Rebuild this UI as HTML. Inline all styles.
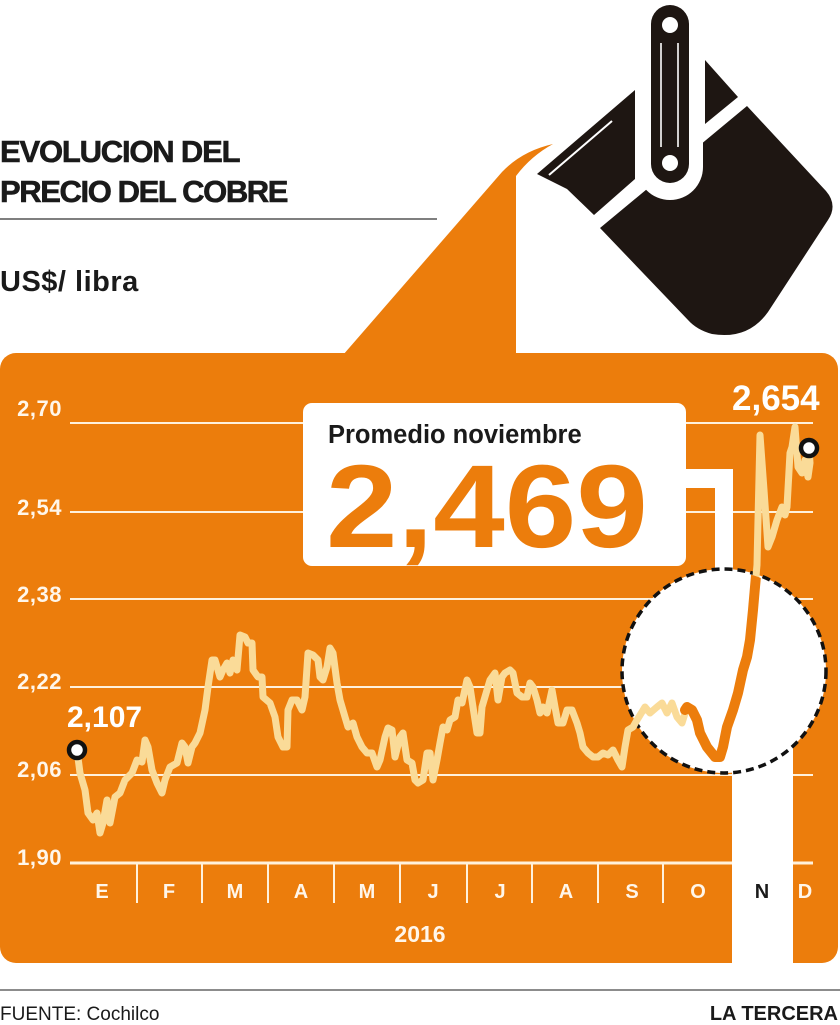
<!DOCTYPE html>
<html>
<head>
<meta charset="utf-8">
<style>
  html,body{margin:0;padding:0;background:#fff;}
  body{width:840px;height:1025px;overflow:hidden;}
  svg{display:block;font-family:"Liberation Sans", Arial, sans-serif;}
</style>
</head>
<body>
<svg width="840" height="1025" viewBox="0 0 840 1025" xmlns="http://www.w3.org/2000/svg">
  <defs>
    <clipPath id="cc"><circle cx="724" cy="671" r="100"/></clipPath>
  </defs>
  <rect width="840" height="1025" fill="#fff"/>

  <!-- Title -->
  <text x="0" y="162" font-size="31" font-weight="bold" letter-spacing="-1.2" fill="#1a1a1a" stroke="#1a1a1a" stroke-width="0.6">EVOLUCION DEL</text>
  <text x="0" y="202" font-size="31" font-weight="bold" letter-spacing="-1.4" fill="#1a1a1a" stroke="#1a1a1a" stroke-width="0.6">PRECIO DEL COBRE</text>
  <line x1="0" y1="219" x2="437" y2="219" stroke="#555" stroke-width="1.5"/>
  <text x="0" y="291" font-size="29" font-weight="bold" letter-spacing="0.5" fill="#1a1a1a">US$/ libra</text>

  <!-- orange pour shape -->
  <path d="M343,355 L502,172 Q522,151 553,144 Q531,156 516,176 L516,355 Z" fill="#EC7D0C"/>

  <!-- Bucket -->
  <path d="M600,228 L747,106 L826,191 Q838,205 828,220 L768,312 Q748,340 712,334 Q697,330 688,320 Z" fill="#1e1612"/>
  <path d="M537,174 L635,90 L635,179 L594,215 L567,189 Z" fill="#1e1612"/>
  <line x1="549" y1="175" x2="612" y2="121" stroke="#fff" stroke-width="2"/>
  <path d="M705,60 L738,97 L705,124 Z" fill="#1e1612"/>
  <rect x="637" y="-12" width="66" height="212" rx="33" fill="#fff"/>
  <rect x="651" y="5" width="38" height="178" rx="19" fill="#1e1612"/>
  <circle cx="670" cy="25" r="8" fill="#fff"/>
  <circle cx="670" cy="163" r="8" fill="#fff"/>
  <line x1="661" y1="43" x2="661" y2="147" stroke="#fff" stroke-width="1.6"/>
  <line x1="678" y1="43" x2="678" y2="147" stroke="#fff" stroke-width="1.6"/>

  <!-- Panel -->
  <rect x="0" y="353" width="838" height="610" rx="16" fill="#EC7D0C"/>

  <!-- gridlines -->
  <g stroke="#FFF1DC" stroke-width="2">
    <line x1="70" y1="423" x2="813" y2="423"/>
    <line x1="70" y1="512" x2="813" y2="512"/>
    <line x1="70" y1="599" x2="813" y2="599"/>
    <line x1="70" y1="687" x2="813" y2="687"/>
    <line x1="70" y1="775" x2="813" y2="775"/>
  </g>
  <line x1="70" y1="863" x2="813" y2="863" stroke="#FFF1DC" stroke-width="3"/>
  <g stroke="#FFF1DC" stroke-width="2">
    <line x1="137" y1="863" x2="137" y2="903"/>
    <line x1="202" y1="863" x2="202" y2="903"/>
    <line x1="268" y1="863" x2="268" y2="903"/>
    <line x1="334" y1="863" x2="334" y2="903"/>
    <line x1="400" y1="863" x2="400" y2="903"/>
    <line x1="467" y1="863" x2="467" y2="903"/>
    <line x1="532" y1="863" x2="532" y2="903"/>
    <line x1="598" y1="863" x2="598" y2="903"/>
    <line x1="663" y1="863" x2="663" y2="903"/>
  </g>

  <!-- Y labels -->
  <g font-size="22" font-weight="bold" fill="#FFF6EA" text-anchor="end" letter-spacing="0.5">
    <text x="62" y="416">2,70</text>
    <text x="62" y="515">2,54</text>
    <text x="62" y="602">2,38</text>
    <text x="62" y="689">2,22</text>
    <text x="62" y="777">2,06</text>
    <text x="62" y="865">1,90</text>
  </g>

  <!-- circle highlight & November band -->
  <circle cx="724" cy="671" r="102" fill="#fff"/>
  <rect x="732" y="700" width="61" height="290" fill="#fff"/>
  <rect x="686" y="469" width="47" height="19" fill="#fff"/>
  <rect x="715" y="469" width="18" height="112" fill="#fff"/>
  <circle cx="724" cy="671" r="102" fill="none" stroke="#111" stroke-width="3.5" stroke-dasharray="8 5"/>

  <!-- series -->
  <polyline fill="none" stroke="#FADB98" stroke-width="7" stroke-linejoin="round" stroke-linecap="round"
    points="77,750 80,773 85,790 88,813 93,820 97,813 100,833 103,823 107,800 110,823 115,797 120,793 125,780 132,773 137,760 142,762 145,740 148,747 152,770 157,783 162,793 165,780 170,767 177,763 182,743 185,747 188,763 192,747 195,743 200,733 205,710 208,687 212,660 215,660 220,677 223,670 227,663 230,673 233,660 237,670 240,635 245,637 248,643 252,643 253,670 258,677 262,677 263,697 270,703 275,717 278,737 283,747 287,747 288,710 292,700 297,700 302,710 305,697 308,653 313,655 318,660 320,677 323,680 327,667 330,648 333,653 337,683 340,700 345,717 348,727 353,723 357,737 362,747 367,753 372,753 377,767 380,760 385,737 388,728 392,730 395,757 400,737 403,733 407,760 412,763 415,780 418,783 423,780 427,753 430,753 433,780 437,760 440,743 443,727 447,730 450,720 455,717 458,700 462,703 467,680 470,687 473,707 477,733 480,733 482,707 487,690 490,680 495,673 498,700 502,677 505,673 510,670 513,673 517,693 522,697 527,697 530,683 533,687 537,700 540,713 543,707 547,713 552,690 555,707 558,723 563,723 567,710 572,710 577,723 580,733 583,747 588,753 593,757 598,757 603,753 608,755 613,750 618,760 622,767 625,747 628,730 633,727 637,720 645,707 650,713 657,707 662,703 667,713 672,703 677,717 682,723 687,707 692,710 697,720 700,733 707,747 715,757 720,757 723,747 727,727 733,710 738,693 743,670 747,657 750,640 753,610 755,587 757,565 758,520 760,435 764,490 768,547 772,537 777,520 782,507 785,515 787,507 790,453 792,447 795,427 798,467 802,473 805,460 808,477 810,463 809,448"/>
  <g clip-path="url(#cc)">
    <polyline fill="none" stroke="#EC7D0C" stroke-width="10" stroke-linejoin="round" stroke-linecap="round"
      points="685,710 687,707 692,710 697,720 700,733 707,747 715,757 720,757 723,747 727,727 733,710 738,693 743,670 747,657 750,640 753,610 755,587 757,565 758,520"/>
  </g>

  <!-- markers -->
  <circle cx="77" cy="750" r="8" fill="#fff" stroke="#111" stroke-width="4.5"/>
  <circle cx="809" cy="448" r="8" fill="#fff" stroke="#111" stroke-width="4.5"/>
  <text x="67" y="727" font-size="30" font-weight="bold" fill="#fff">2,107</text>
  <text x="732" y="410" font-size="35" font-weight="bold" fill="#fff">2,654</text>

  <!-- callout box -->
  <rect x="303" y="403" width="383" height="163" rx="9" fill="#fff"/>
  <text x="328" y="443" font-size="25.5" font-weight="bold" fill="#1a1a1a">Promedio noviembre</text>
  <text transform="translate(326,547) scale(1.09,1)" x="0" y="0" font-size="118" font-weight="bold" fill="#EC7D0C">2,469</text>

  <!-- month labels -->
  <g font-size="20" font-weight="bold" fill="#FFF6EA" text-anchor="middle">
    <text x="102" y="898">E</text>
    <text x="169" y="898">F</text>
    <text x="235" y="898">M</text>
    <text x="301" y="898">A</text>
    <text x="367" y="898">M</text>
    <text x="433" y="898">J</text>
    <text x="500" y="898">J</text>
    <text x="566" y="898">A</text>
    <text x="632" y="898">S</text>
    <text x="698" y="898">O</text>
    <text x="762" y="898" fill="#1a1a1a">N</text>
    <text x="805" y="898">D</text>
  </g>
  <text x="420" y="942" font-size="23" font-weight="bold" fill="#FFF6EA" text-anchor="middle">2016</text>

  <!-- footer -->
  <line x1="0" y1="990" x2="840" y2="990" stroke="#666" stroke-width="1.5"/>
  <text x="0" y="1020" font-size="19" fill="#1a1a1a">FUENTE: Cochilco</text>
  <text x="838" y="1020" font-size="20" font-weight="bold" fill="#1a1a1a" text-anchor="end">LA TERCERA</text>
</svg>
</body>
</html>
